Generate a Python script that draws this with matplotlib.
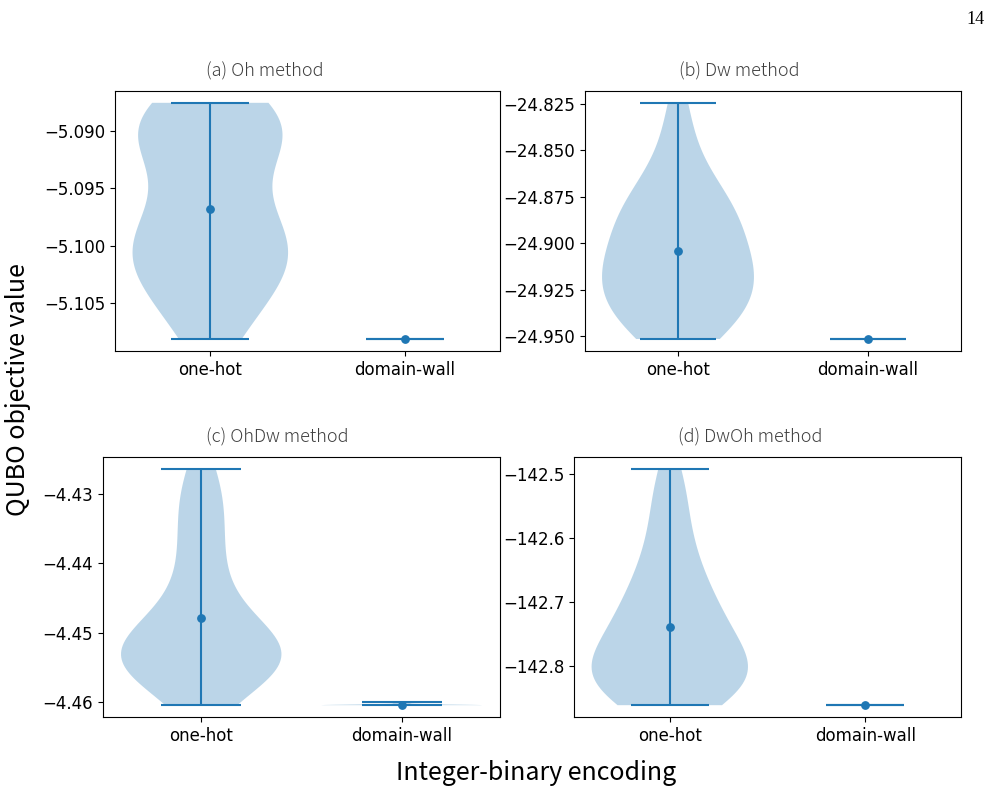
import numpy as np
import matplotlib
matplotlib.use("Agg")
import matplotlib.pyplot as plt
from matplotlib.ticker import MultipleLocator

plt.rcParams["font.family"] = "DejaVu Sans"

# カテゴリ
categories = ["one-hot", "domain-wall"]
titles = ["(a) Oh method", "(b) Dw method", "(c) OhDw method", "(d) DwOh method"]

# (a) Oh method
oh_onehot = [-5.0875, -5.0875, -5.0882, -5.0886, -5.0891, -5.0896, -5.0899, -5.0902,
             -5.0908, -5.0915, -5.0927, -5.0941, -5.0955, -5.0970, -5.0978, -5.0985,
             -5.0991, -5.0997, -5.1002, -5.1007, -5.1012, -5.1017, -5.1023, -5.1030,
             -5.1038, -5.1047, -5.1057, -5.1075, -5.1082]
oh_dwall = [-5.1082, -5.1082, -5.1082, -5.1082000001]

# (b) Dw method
dw_onehot = [-24.8245, -24.8425, -24.8545, -24.8645, -24.8695, -24.8745, -24.8795,
             -24.8825, -24.8845, -24.8875, -24.8915, -24.8955, -24.8995, -24.9025,
             -24.9055, -24.9085, -24.9115, -24.9145, -24.9175, -24.9205, -24.9235,
             -24.9245, -24.9265, -24.9295, -24.9325, -24.9365, -24.9405, -24.9445,
             -24.9475, -24.9495, -24.9515]
dw_dwall = [-24.9516, -24.9516, -24.9516, -24.9516000001]

# (c) OhDw method
ohdw_onehot = [-4.4264, -4.4288, -4.4310, -4.4332, -4.4355, -4.4380, -4.4405, -4.4430,
               -4.4450, -4.4468, -4.4485, -4.4495, -4.4505, -4.4515, -4.4520, -4.4522,
               -4.4525, -4.4528, -4.4530, -4.4535, -4.4538, -4.4545, -4.4548, -4.4550,
               -4.4555, -4.4560, -4.4565, -4.4575, -4.4604]
ohdw_dwall = [-4.4604, -4.4604, -4.4604, -4.4604, -4.4604, -4.4604, -4.4600]

# (d) DwOh method
dwoh_onehot = [-142.4917, -142.5177, -142.5437, -142.5697, -142.5957, -142.6157,
               -142.6337, -142.6497, -142.6637, -142.6767, -142.6887, -142.6987,
               -142.7077, -142.7167, -142.7257, -142.7337, -142.7417, -142.7497,
               -142.7577, -142.7647, -142.7717, -142.7787, -142.7857, -142.7927,
               -142.7997, -142.8017, -142.8067, -142.8097, -142.8137, -142.8207,
               -142.8247, -142.8287, -142.8317, -142.8367, -142.8417, -142.8447,
               -142.8527, -142.8567, -142.8607]
dwoh_dwall = [-142.8607, -142.8607, -142.8607, -142.8607000001]

datasets = [
    [oh_onehot, oh_dwall],
    [dw_onehot, dw_dwall],
    [ohdw_onehot, ohdw_dwall],
    [dwoh_onehot, dwoh_dwall],
]

# 軸の位置 (figure座標)
positions_ax = [
    [0.1155, 0.5568, 0.3865, 0.3283],
    [0.5873, 0.5568, 0.3775, 0.3283],
    [0.1034, 0.0947, 0.3986, 0.3283],
    [0.5763, 0.0947, 0.3886, 0.3283],
]
# タイトルの横位置 (axes座標)
title_x = [0.39, 0.41, 0.44, 0.455]
# y目盛りの間隔
y_steps = [0.005, 0.025, 0.01, 0.1]

jp_font = ["Noto Sans CJK JP", "DejaVu Sans"]

fig = plt.figure(figsize=(9.96, 7.92), dpi=100)

for k in range(4):
    ax = fig.add_axes(positions_ax[k])
    data = datasets[k]
    ax.violinplot(data, positions=[1, 2], widths=0.8)
    means = [np.mean(d) for d in data]
    ax.scatter([1, 2], means, s=28, color="C0", zorder=3)
    ax.set_xticks([1, 2])
    ax.set_xticklabels(categories, fontsize=12)
    ax.yaxis.set_major_locator(MultipleLocator(y_steps[k]))
    ax.tick_params(axis="y", labelsize=12)
    ax.text(title_x[k], 1.077, titles[k], transform=ax.transAxes, family=jp_font,
            fontsize=13, color="#404040", ha="center", va="center", fontweight="light")

fig.text(0.538, 0.024, "Integer-binary encoding", family=jp_font, fontsize=18,
         ha="center", va="center")
fig.text(0.018, 0.508, "QUBO objective value", family=jp_font, fontsize=18,
         rotation=90, ha="center", va="center")
fig.text(0.988, 0.975, "14", family="Liberation Serif", fontsize=13,
         ha="right", va="center")

fig.savefig("out.png", dpi=100)
